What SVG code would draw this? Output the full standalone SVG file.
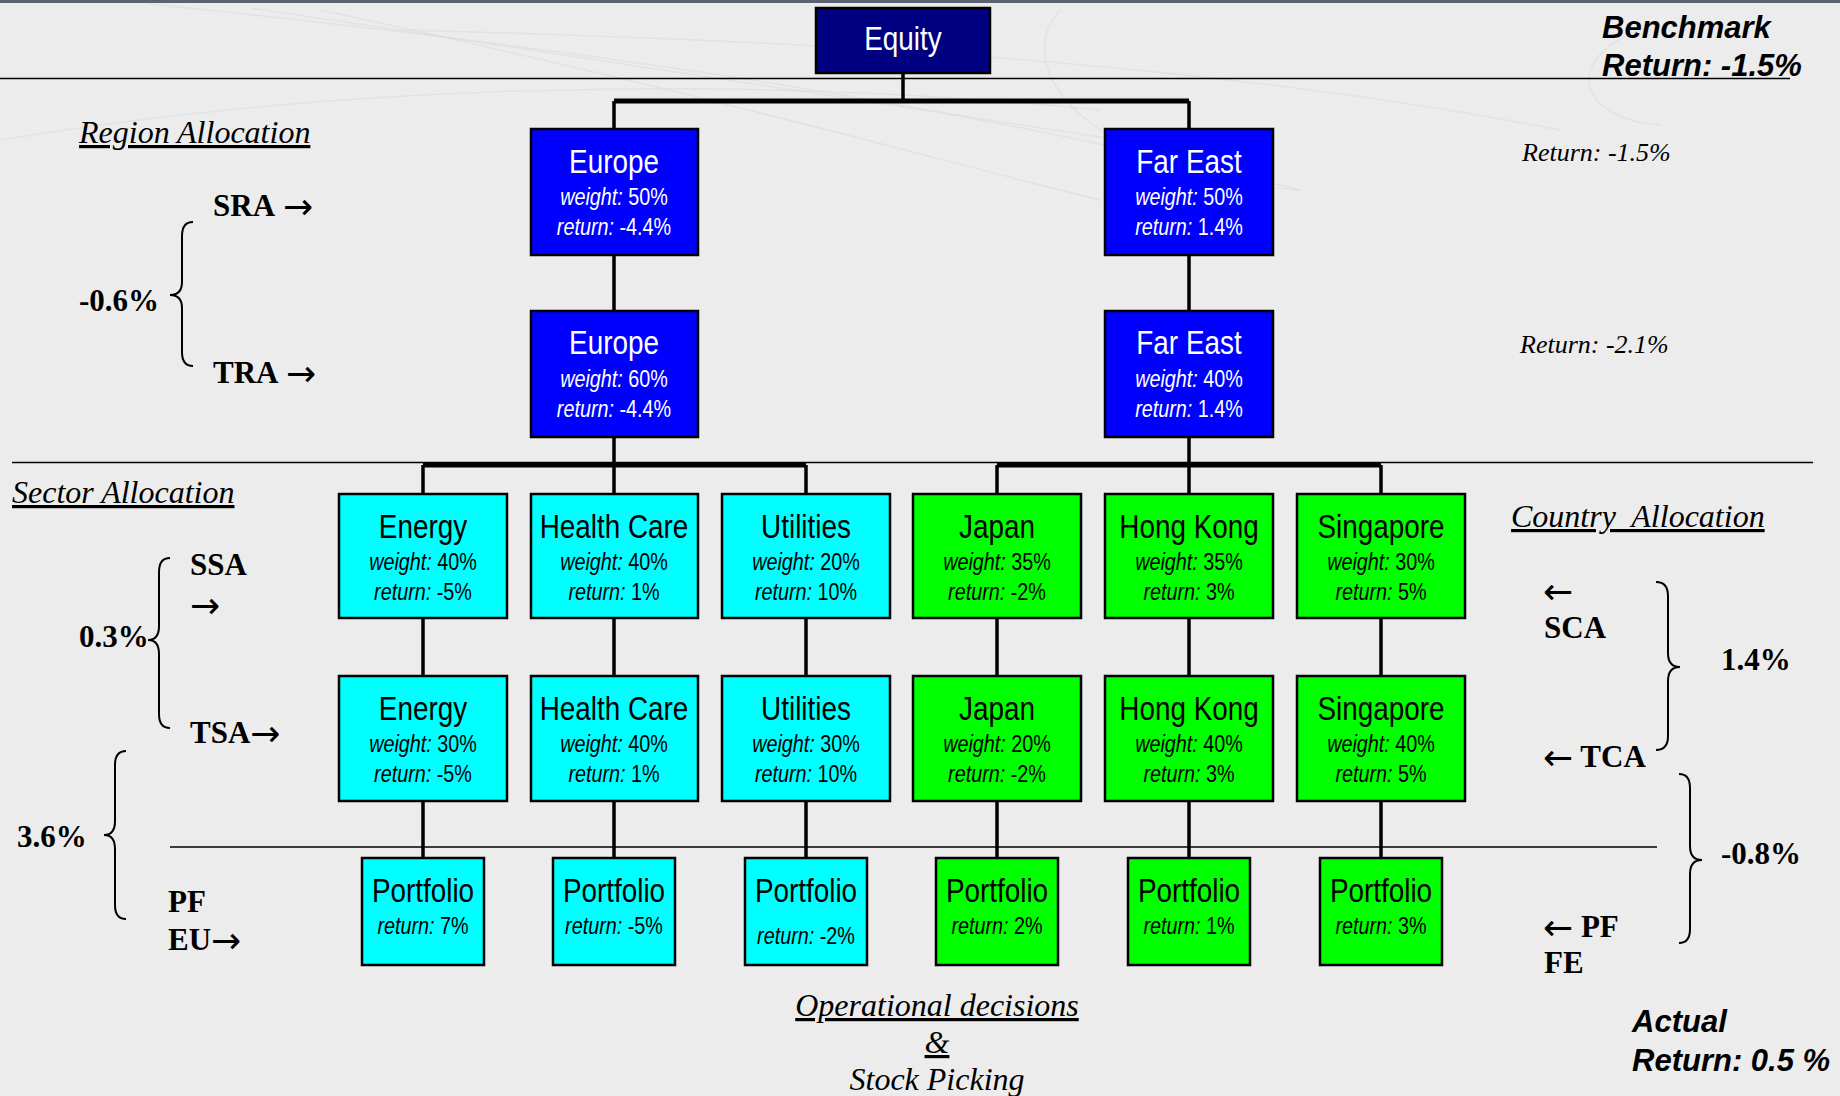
<svg xmlns="http://www.w3.org/2000/svg" width="1840" height="1096" viewBox="0 0 1840 1096">
<style>
.bg{fill:#ececec}
.box{stroke:#000;stroke-width:2.5}
.navy{fill:#000080}
.blue{fill:#0000ff}
.cyan{fill:#00ffff}
.green{fill:#00ff00}
.t{font-family:"Liberation Sans",Arial,sans-serif;font-size:34px;text-anchor:middle}
.d{font-family:"Liberation Sans",Arial,sans-serif;font-size:23px;text-anchor:middle}
.w{fill:#fff}
.k{fill:#000}
.i{font-style:italic}
.conn{stroke:#000;stroke-width:3.5;fill:none}
.bus{stroke:#000;stroke-width:5;fill:none}
.rule{stroke:#000;stroke-width:1.6}
.brace{stroke:#000;stroke-width:2;fill:none}
.lab{font-family:"Liberation Serif","Times New Roman",serif;font-size:31px;font-weight:bold;fill:#000}
.ar{font-family:"DejaVu Sans",sans-serif;font-size:36px;font-weight:normal}
.head{font-family:"Liberation Serif","Times New Roman",serif;font-size:32px;font-style:italic;fill:#000;text-decoration:underline}
.ret{font-family:"Liberation Serif","Times New Roman",serif;font-size:26px;font-style:italic;fill:#000}
.big{font-family:"Liberation Sans",Arial,sans-serif;font-size:31px;font-weight:bold;font-style:italic;fill:#000}
.deco{stroke:#dcdcdc;stroke-width:1.5;fill:none;opacity:.6}
</style>
<rect class="bg" x="0" y="0" width="1840" height="1096"/>
<rect x="0" y="0" width="1840" height="3" fill="#5c6272"/>
<g id="decoration">
<path class="deco" d="M150,4 C500,40 900,90 1300,190"/>
<path class="deco" d="M250,8 C600,60 1000,120 1250,160"/>
<path class="deco" d="M320,10 C650,80 900,150 1100,200"/>
<path class="deco" d="M0,140 C300,90 700,70 1100,110"/>
<path class="deco" d="M400,30 C800,40 1200,60 1560,130"/>
<path class="deco" d="M1060,10 C1000,80 1120,180 1300,190"/>
<path class="deco" d="M1640,30 C1560,60 1580,120 1660,125"/>
</g>
<g id="rules">
<line class="rule" x1="0" y1="78.5" x2="1790" y2="78.5"/>
<line class="rule" x1="12" y1="462.5" x2="1813" y2="462.5"/>
<line class="rule" x1="170" y1="847" x2="1657" y2="847"/>
</g>
<g id="connectors">
<path class="conn" d="M903,73 V101"/>
<path class="bus" d="M614,101 H1189"/>
<path class="conn" d="M614,101 V129 M1189,101 V129"/>
<path class="conn" d="M614,255 V311 M1189,255 V311"/>
<path class="conn" d="M614,437 V465 M1189,437 V465"/>
<path class="bus" d="M423,465 H806 M997,465 H1381"/>
<path class="conn" d="M423,465 V494 M614,465 V494 M806,465 V494 M997,465 V494 M1189,465 V494 M1381,465 V494"/>
<path class="conn" d="M423,618 V676 M614,618 V676 M806,618 V676 M997,618 V676 M1189,618 V676 M1381,618 V676"/>
<path class="conn" d="M423,801 V858 M614,801 V858 M806,801 V858 M997,801 V858 M1189,801 V858 M1381,801 V858"/>
</g>
<g id="equity">
<rect class="box navy" x="816" y="8" width="174" height="65"/>
<text class="t w" transform="translate(903,50) scale(0.82,1)">Equity</text>
</g>
<g id="europe-sra">
<rect class="box blue" x="531" y="129" width="167" height="126"/>
<text class="t w" transform="translate(614,173) scale(0.82,1)">Europe</text>
<text class="d w" transform="translate(614,205) scale(0.86,1)"><tspan class="i">weight:</tspan> 50%</text>
<text class="d w" transform="translate(614,235) scale(0.86,1)"><tspan class="i">return:</tspan> -4.4%</text>
</g>
<g id="fareast-sra">
<rect class="box blue" x="1105" y="129" width="168" height="126"/>
<text class="t w" transform="translate(1189,173) scale(0.82,1)">Far East</text>
<text class="d w" transform="translate(1189,205) scale(0.86,1)"><tspan class="i">weight:</tspan> 50%</text>
<text class="d w" transform="translate(1189,235) scale(0.86,1)"><tspan class="i">return:</tspan> 1.4%</text>
</g>
<g id="europe-tra">
<rect class="box blue" x="531" y="311" width="167" height="126"/>
<text class="t w" transform="translate(614,354) scale(0.82,1)">Europe</text>
<text class="d w" transform="translate(614,387) scale(0.86,1)"><tspan class="i">weight:</tspan> 60%</text>
<text class="d w" transform="translate(614,417) scale(0.86,1)"><tspan class="i">return:</tspan> -4.4%</text>
</g>
<g id="fareast-tra">
<rect class="box blue" x="1105" y="311" width="168" height="126"/>
<text class="t w" transform="translate(1189,354) scale(0.82,1)">Far East</text>
<text class="d w" transform="translate(1189,387) scale(0.86,1)"><tspan class="i">weight:</tspan> 40%</text>
<text class="d w" transform="translate(1189,417) scale(0.86,1)"><tspan class="i">return:</tspan> 1.4%</text>
</g>
<g id="energy-ssa">
<rect class="box cyan" x="339" y="494" width="168" height="124"/>
<text class="t k" transform="translate(423,538) scale(0.82,1)">Energy</text>
<text class="d k" transform="translate(423,570) scale(0.86,1)"><tspan class="i">weight:</tspan> 40%</text>
<text class="d k" transform="translate(423,600) scale(0.86,1)"><tspan class="i">return:</tspan> -5%</text>
</g>
<g id="healthcare-ssa">
<rect class="box cyan" x="531" y="494" width="167" height="124"/>
<text class="t k" transform="translate(614,538) scale(0.82,1)">Health Care</text>
<text class="d k" transform="translate(614,570) scale(0.86,1)"><tspan class="i">weight:</tspan> 40%</text>
<text class="d k" transform="translate(614,600) scale(0.86,1)"><tspan class="i">return:</tspan> 1%</text>
</g>
<g id="utilities-ssa">
<rect class="box cyan" x="722" y="494" width="168" height="124"/>
<text class="t k" transform="translate(806,538) scale(0.82,1)">Utilities</text>
<text class="d k" transform="translate(806,570) scale(0.86,1)"><tspan class="i">weight:</tspan> 20%</text>
<text class="d k" transform="translate(806,600) scale(0.86,1)"><tspan class="i">return:</tspan> 10%</text>
</g>
<g id="japan-sca">
<rect class="box green" x="913" y="494" width="168" height="124"/>
<text class="t k" transform="translate(997,538) scale(0.82,1)">Japan</text>
<text class="d k" transform="translate(997,570) scale(0.86,1)"><tspan class="i">weight:</tspan> 35%</text>
<text class="d k" transform="translate(997,600) scale(0.86,1)"><tspan class="i">return:</tspan> -2%</text>
</g>
<g id="hongkong-sca">
<rect class="box green" x="1105" y="494" width="168" height="124"/>
<text class="t k" transform="translate(1189,538) scale(0.82,1)">Hong Kong</text>
<text class="d k" transform="translate(1189,570) scale(0.86,1)"><tspan class="i">weight:</tspan> 35%</text>
<text class="d k" transform="translate(1189,600) scale(0.86,1)"><tspan class="i">return:</tspan> 3%</text>
</g>
<g id="singapore-sca">
<rect class="box green" x="1297" y="494" width="168" height="124"/>
<text class="t k" transform="translate(1381,538) scale(0.82,1)">Singapore</text>
<text class="d k" transform="translate(1381,570) scale(0.86,1)"><tspan class="i">weight:</tspan> 30%</text>
<text class="d k" transform="translate(1381,600) scale(0.86,1)"><tspan class="i">return:</tspan> 5%</text>
</g>
<g id="energy-tsa">
<rect class="box cyan" x="339" y="676" width="168" height="125"/>
<text class="t k" transform="translate(423,720) scale(0.82,1)">Energy</text>
<text class="d k" transform="translate(423,752) scale(0.86,1)"><tspan class="i">weight:</tspan> 30%</text>
<text class="d k" transform="translate(423,782) scale(0.86,1)"><tspan class="i">return:</tspan> -5%</text>
</g>
<g id="healthcare-tsa">
<rect class="box cyan" x="531" y="676" width="167" height="125"/>
<text class="t k" transform="translate(614,720) scale(0.82,1)">Health Care</text>
<text class="d k" transform="translate(614,752) scale(0.86,1)"><tspan class="i">weight:</tspan> 40%</text>
<text class="d k" transform="translate(614,782) scale(0.86,1)"><tspan class="i">return:</tspan> 1%</text>
</g>
<g id="utilities-tsa">
<rect class="box cyan" x="722" y="676" width="168" height="125"/>
<text class="t k" transform="translate(806,720) scale(0.82,1)">Utilities</text>
<text class="d k" transform="translate(806,752) scale(0.86,1)"><tspan class="i">weight:</tspan> 30%</text>
<text class="d k" transform="translate(806,782) scale(0.86,1)"><tspan class="i">return:</tspan> 10%</text>
</g>
<g id="japan-tca">
<rect class="box green" x="913" y="676" width="168" height="125"/>
<text class="t k" transform="translate(997,720) scale(0.82,1)">Japan</text>
<text class="d k" transform="translate(997,752) scale(0.86,1)"><tspan class="i">weight:</tspan> 20%</text>
<text class="d k" transform="translate(997,782) scale(0.86,1)"><tspan class="i">return:</tspan> -2%</text>
</g>
<g id="hongkong-tca">
<rect class="box green" x="1105" y="676" width="168" height="125"/>
<text class="t k" transform="translate(1189,720) scale(0.82,1)">Hong Kong</text>
<text class="d k" transform="translate(1189,752) scale(0.86,1)"><tspan class="i">weight:</tspan> 40%</text>
<text class="d k" transform="translate(1189,782) scale(0.86,1)"><tspan class="i">return:</tspan> 3%</text>
</g>
<g id="singapore-tca">
<rect class="box green" x="1297" y="676" width="168" height="125"/>
<text class="t k" transform="translate(1381,720) scale(0.82,1)">Singapore</text>
<text class="d k" transform="translate(1381,752) scale(0.86,1)"><tspan class="i">weight:</tspan> 40%</text>
<text class="d k" transform="translate(1381,782) scale(0.86,1)"><tspan class="i">return:</tspan> 5%</text>
</g>
<g id="pf-energy">
<rect class="box cyan" x="362" y="858" width="122" height="107"/>
<text class="t k" transform="translate(423,902) scale(0.82,1)">Portfolio</text>
<text class="d k" transform="translate(423,934) scale(0.86,1)"><tspan class="i">return:</tspan> 7%</text>
</g>
<g id="pf-healthcare">
<rect class="box cyan" x="553" y="858" width="122" height="107"/>
<text class="t k" transform="translate(614,902) scale(0.82,1)">Portfolio</text>
<text class="d k" transform="translate(614,934) scale(0.86,1)"><tspan class="i">return:</tspan> -5%</text>
</g>
<g id="pf-utilities">
<rect class="box cyan" x="745" y="858" width="122" height="107"/>
<text class="t k" transform="translate(806,902) scale(0.82,1)">Portfolio</text>
<text class="d k" transform="translate(806,944) scale(0.86,1)"><tspan class="i">return:</tspan> -2%</text>
</g>
<g id="pf-japan">
<rect class="box green" x="936" y="858" width="122" height="107"/>
<text class="t k" transform="translate(997,902) scale(0.82,1)">Portfolio</text>
<text class="d k" transform="translate(997,934) scale(0.86,1)"><tspan class="i">return:</tspan> 2%</text>
</g>
<g id="pf-hongkong">
<rect class="box green" x="1128" y="858" width="122" height="107"/>
<text class="t k" transform="translate(1189,902) scale(0.82,1)">Portfolio</text>
<text class="d k" transform="translate(1189,934) scale(0.86,1)"><tspan class="i">return:</tspan> 1%</text>
</g>
<g id="pf-singapore">
<rect class="box green" x="1320" y="858" width="122" height="107"/>
<text class="t k" transform="translate(1381,902) scale(0.82,1)">Portfolio</text>
<text class="d k" transform="translate(1381,934) scale(0.86,1)"><tspan class="i">return:</tspan> 3%</text>
</g>
<g id="braces">
<path class="brace" d="M193,222 Q182,222 182,236 L182,282 Q182,295 170,295 Q182,295 182,308 L182,352 Q182,366 193,366"/>
<path class="brace" d="M170,558 Q159,558 159,572 L159,626 Q159,640 148,640 Q159,640 159,654 L159,714 Q159,728 170,728"/>
<path class="brace" d="M126,751 Q115,751 115,765 L115,821 Q115,835 104,835 Q115,835 115,849 L115,905 Q115,919 126,919"/>
<path class="brace" d="M1656,582 Q1668,582 1668,596 L1668,653 Q1668,667 1680,667 Q1668,667 1668,681 L1668,736 Q1668,750 1656,750"/>
<path class="brace" d="M1679,774 Q1690,774 1690,788 L1690,846 Q1690,860 1702,860 Q1690,860 1690,874 L1690,929 Q1690,943 1679,943"/>
</g>
<g id="labels">
<text class="head" x="79" y="143">Region Allocation</text>
<text class="head" x="12" y="503">Sector Allocation</text>
<text class="head" x="1511" y="527" xml:space="preserve">Country  Allocation</text>
<text class="head" x="937" y="1016" text-anchor="middle">Operational decisions</text>
<text class="head" x="937" y="1053" text-anchor="middle">&amp;</text>
<text class="head" x="937" y="1090" text-anchor="middle" style="text-decoration:none">Stock Picking</text>
<text class="lab" x="213" y="216">SRA <tspan class="ar" x="283" y="219">→</tspan></text>
<text class="lab" x="213" y="383">TRA <tspan class="ar" x="286" y="386">→</tspan></text>
<text class="lab" x="79" y="311">-0.6%</text>
<text class="lab" x="190" y="575">SSA</text>
<text class="lab" x="190" y="618"><tspan class="ar">→</tspan></text>
<text class="lab" x="79" y="647">0.3%</text>
<text class="lab" x="190" y="743">TSA<tspan class="ar" y="746">→</tspan></text>
<text class="lab" x="17" y="847">3.6%</text>
<text class="lab" x="168" y="912">PF</text>
<text class="lab" x="168" y="950">EU<tspan class="ar" y="953">→</tspan></text>
<text class="lab" x="1543" y="604"><tspan class="ar">←</tspan></text>
<text class="lab" x="1544" y="638">SCA</text>
<text class="lab" x="1721" y="670">1.4%</text>
<text class="lab" x="1543" y="770"><tspan class="ar">←</tspan><tspan y="767"> TCA</tspan></text>
<text class="lab" x="1721" y="864">-0.8%</text>
<text class="lab" x="1543" y="940"><tspan class="ar">←</tspan><tspan y="937"> PF</tspan></text>
<text class="lab" x="1544" y="973">FE</text>
<text class="ret" x="1522" y="161">Return: -1.5%</text>
<text class="ret" x="1520" y="353">Return: -2.1%</text>
<text class="big" x="1602" y="38">Benchmark</text>
<text class="big" x="1602" y="76">Return: -1.5%</text>
<text class="big" x="1632" y="1032">Actual</text>
<text class="big" x="1632" y="1071">Return: 0.5 %</text>
</g>
</svg>
